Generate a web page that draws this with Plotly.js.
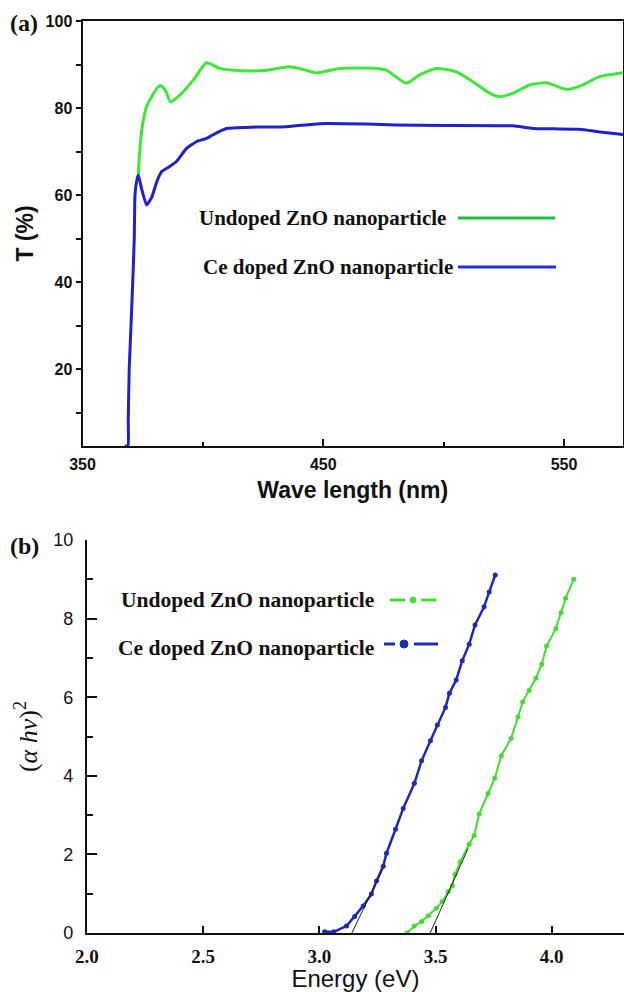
<!DOCTYPE html>
<html>
<head>
<meta charset="utf-8">
<script src="https://cdn.plot.ly/plotly-3.0.1.min.js"></script>
<style>html,body{margin:0;padding:0;background:#fff;}#chart{width:624px;height:992px;}</style>
</head>
<body>
<div id="chart"></div>
<script>
// ---- Panel (a): transmittance ----
const undopedWavelength = [373.2, 373.6, 374.6, 376.6, 378.7, 381.5, 382.5, 384.5, 386.6, 390.5, 396.0, 401.5, 407.0, 412.6, 425.0, 436.0, 440.2, 447.2, 456.8, 472.1, 476.2, 484.5, 490.0, 497.0, 505.3, 512.2, 519.1, 523.2, 528.8, 535.7, 542.6, 549.5, 552.3, 557.8, 564.7, 574.5];
const undopedT = [64.6, 68.8, 74.9, 80.3, 82.6, 84.9, 85.1, 84.0, 81.4, 83.0, 86.4, 90.4, 89.1, 88.7, 88.6, 89.5, 89.1, 88.1, 89.1, 89.1, 88.7, 85.7, 87.6, 89.1, 88.3, 86.0, 83.4, 82.6, 83.4, 85.3, 85.8, 84.5, 84.3, 85.3, 87.2, 88.1];
const ceWavelength = [367.5, 368.9, 369.0, 369.4, 370.3, 371.0, 371.5, 371.8, 372.6, 373.2, 374.5, 376.6, 378.8, 380.8, 382.9, 386.0, 389.0, 393.2, 397.4, 401.5, 405.7, 409.8, 420.0, 434.7, 448.5, 468.0, 480.0, 500.0, 528.8, 537.0, 548.0, 556.4, 565.0, 574.5];
const ceT = [2.3, 2.3, 8.0, 20.0, 32.0, 42.0, 50.0, 60.0, 63.5, 64.6, 61.5, 57.7, 59.5, 63.0, 65.4, 66.5, 67.7, 70.7, 72.3, 73.0, 74.3, 75.3, 75.6, 75.7, 76.4, 76.3, 76.1, 76.0, 75.9, 75.3, 75.2, 75.1, 74.5, 73.9];

// ---- Panel (b): Tauc plot ----
const undopedEnergy = [3.378, 3.409, 3.440, 3.469, 3.503, 3.529, 3.555, 3.572, 3.584, 3.606, 3.645, 3.666, 3.688, 3.726, 3.755, 3.783, 3.825, 3.855, 3.875, 3.903, 3.932, 3.957, 3.978, 4.018, 4.040, 4.060, 4.095];
const undopedAhv = [0, 0.18, 0.29, 0.44, 0.63, 0.80, 1.05, 1.20, 1.49, 1.81, 2.26, 2.48, 3.03, 3.55, 3.94, 4.51, 4.95, 5.50, 5.88, 6.18, 6.48, 6.84, 7.30, 7.75, 8.15, 8.52, 9.00];
const ceEnergy = [3.023, 3.063, 3.117, 3.152, 3.189, 3.224, 3.246, 3.275, 3.289, 3.328, 3.361, 3.409, 3.440, 3.478, 3.508, 3.543, 3.560, 3.589, 3.615, 3.645, 3.670, 3.709, 3.731, 3.757];
const ceAhv = [0.03, 0.03, 0.18, 0.42, 0.69, 0.99, 1.32, 1.70, 2.03, 2.64, 3.17, 3.81, 4.38, 4.89, 5.29, 5.74, 6.10, 6.44, 6.93, 7.35, 7.84, 8.30, 8.68, 9.11];
const ceTangentX = [3.14, 3.281];
const ceTangentY = [0, 1.73];
const undopedTangentX = [3.477, 3.640];
const undopedTangentY = [0, 2.15];

const legendLabels = ["Undoped ZnO nanoparticle", "Ce doped ZnO nanoparticle"];
const tickA_x = [350, 450, 550];
const tickA_y = [20, 40, 60, 80, 100];
const tickB_x = [2.0, 2.5, 3.0, 3.5, 4.0];
const tickB_xText = ["2.0", "2.5", "3.0", "3.5", "4.0"];
const tickB_y = [0, 2, 4, 6, 8, 10];

const W = 624, H = 992;
const px = v => v / W;
const py = v => 1 - v / H;

const greenA = '#3ee83a', blueA = '#2020cc';
const greenB = '#44dd33', blueB = '#1c2cb4';

const traces = [
  {x: undopedWavelength, y: undopedT, xaxis: 'x', yaxis: 'y', mode: 'lines', name: legendLabels[0],
   line: {color: greenA, width: 3, shape: 'spline', smoothing: 0.6}, showlegend: false},
  {x: ceWavelength, y: ceT, xaxis: 'x', yaxis: 'y', mode: 'lines', name: legendLabels[1],
   line: {color: blueA, width: 3, shape: 'spline', smoothing: 0.4}, showlegend: false},
  {x: undopedEnergy, y: undopedAhv, xaxis: 'x2', yaxis: 'y2', mode: 'lines+markers', name: legendLabels[0],
   line: {color: greenB, width: 2}, marker: {color: greenB, size: 5}, showlegend: false},
  {x: ceEnergy, y: ceAhv, xaxis: 'x2', yaxis: 'y2', mode: 'lines+markers', name: legendLabels[1],
   line: {color: blueB, width: 2.5}, marker: {color: blueB, size: 5}, showlegend: false},
  {x: ceTangentX, y: ceTangentY, xaxis: 'x2', yaxis: 'y2', mode: 'lines',
   line: {color: '#222', width: 1}, showlegend: false},
  {x: undopedTangentX, y: undopedTangentY, xaxis: 'x2', yaxis: 'y2', mode: 'lines',
   line: {color: '#222', width: 1}, showlegend: false}
];

const boldSans = {family: 'Liberation Sans, Arial, sans-serif', size: 16, color: '#111', weight: 'bold'};
const serifBoldA = {family: 'Liberation Serif, Times New Roman, serif', size: 21, color: '#111', weight: 'bold'};
const serifBoldB = {family: 'Liberation Serif, Times New Roman, serif', size: 21.5, color: '#111', weight: 'bold'};

const layout = {
  width: W, height: H,
  margin: {l: 0, r: 0, t: 0, b: 0},
  paper_bgcolor: '#fff', plot_bgcolor: '#fff',
  showlegend: false,
  xaxis: {
    domain: [px(82.5), px(623)], range: [350, 574.5], anchor: 'y',
    showline: true, linecolor: '#111', linewidth: 2, mirror: true,
    showgrid: false, zeroline: false,
    tickvals: tickA_x, ticks: 'inside', ticklen: 7, tickwidth: 2, tickcolor: '#111',
    minor: {tickvals: [400, 500], ticks: 'inside', ticklen: 4, tickwidth: 2, tickcolor: '#111'},
    tickfont: boldSans, ticklabelstandoff: 3,
    title: {text: 'Wave length (nm)', font: {family: 'Liberation Sans, Arial, sans-serif', size: 23, color: '#111', weight: 'bold'}, standoff: 10}
  },
  yaxis: {
    domain: [py(446), py(21)], range: [2.3, 100], anchor: 'x',
    showline: true, linecolor: '#111', linewidth: 2, mirror: true,
    showgrid: false, zeroline: false,
    tickvals: tickA_y, ticks: 'outside', ticklen: 5, tickwidth: 2, tickcolor: '#111',
    minor: {tickvals: [10, 30, 50, 70, 90], ticks: 'outside', ticklen: 5, tickwidth: 2, tickcolor: '#111'},
    tickfont: boldSans,
    title: {text: 'T (%)', font: {family: 'Liberation Sans, Arial, sans-serif', size: 23, color: '#111', weight: 'bold'}, standoff: 6}
  },
  xaxis2: {
    domain: [px(86.9), 1], range: [2.0, 4.311], anchor: 'y2',
    showline: true, linecolor: '#111', linewidth: 2, mirror: false,
    showgrid: false, zeroline: false,
    tickvals: tickB_x, ticktext: tickB_xText, ticks: 'inside', ticklen: 7, tickwidth: 2, tickcolor: '#111',
    tickfont: {family: 'Liberation Serif, Times New Roman, serif', size: 19, color: '#111', weight: 'bold'},
    ticklabelstandoff: 5,
    title: {text: 'Energy (eV)', font: {family: 'Liberation Sans, Arial, sans-serif', size: 24, color: '#111'}, standoff: 6}
  },
  yaxis2: {
    domain: [py(933), py(540)], range: [0, 10], anchor: 'x2',
    showline: true, linecolor: '#111', linewidth: 2, mirror: false,
    showgrid: false, zeroline: false,
    tickvals: tickB_y, ticks: 'inside', ticklen: 10, tickwidth: 2, tickcolor: '#111',
    minor: {dtick: 1, ticks: 'inside', ticklen: 6, tickwidth: 2, tickcolor: '#111'},
    tickfont: {family: 'Liberation Sans, Arial, sans-serif', size: 18, color: '#111'},
    ticklabelstandoff: 8,
    title: {text: '(<i>α hν</i>)<sup>2</sup>', font: {family: 'Liberation Serif, Times New Roman, serif', size: 26, color: '#111'}, standoff: 8}
  },
  annotations: [
    {xref: 'paper', yref: 'paper', x: px(8), y: py(23), xanchor: 'left', yanchor: 'middle', showarrow: false,
     text: '(a)', font: {family: 'Liberation Serif, Times New Roman, serif', size: 24, color: '#111', weight: 'bold'}},
    {xref: 'paper', yref: 'paper', x: px(8), y: py(546), xanchor: 'left', yanchor: 'middle', showarrow: false,
     text: '(b)', font: {family: 'Liberation Serif, Times New Roman, serif', size: 24, color: '#111', weight: 'bold'}},
    {xref: 'paper', yref: 'paper', x: px(448), y: py(218), xanchor: 'right', yanchor: 'middle', showarrow: false,
     text: legendLabels[0], font: serifBoldA},
    {xref: 'paper', yref: 'paper', x: px(455), y: py(267), xanchor: 'right', yanchor: 'middle', showarrow: false,
     text: legendLabels[1], font: serifBoldA},
    {xref: 'paper', yref: 'paper', x: px(376), y: py(600), xanchor: 'right', yanchor: 'middle', showarrow: false,
     text: legendLabels[0], font: serifBoldB},
    {xref: 'paper', yref: 'paper', x: px(376), y: py(648), xanchor: 'right', yanchor: 'middle', showarrow: false,
     text: legendLabels[1], font: serifBoldB}
  ],
  shapes: [
    // legend (a)
    {type: 'line', xref: 'paper', yref: 'paper', x0: px(458), x1: px(555), y0: py(218), y1: py(218), line: {color: '#1fbf3f', width: 3}},
    {type: 'line', xref: 'paper', yref: 'paper', x0: px(458), x1: px(556), y0: py(267), y1: py(267), line: {color: '#2233dd', width: 3}},
    // legend (b) green: dash, dot, dash
    {type: 'line', xref: 'paper', yref: 'paper', x0: px(390), x1: px(405), y0: py(600), y1: py(600), line: {color: greenB, width: 3}},
    {type: 'circle', xref: 'paper', yref: 'paper', x0: px(410), x1: px(416), y0: py(597), y1: py(603), fillcolor: greenB, line: {color: greenB, width: 1}},
    {type: 'line', xref: 'paper', yref: 'paper', x0: px(421), x1: px(436), y0: py(600), y1: py(600), line: {color: greenB, width: 3}},
    // legend (b) blue: dash, dot, long dash
    {type: 'line', xref: 'paper', yref: 'paper', x0: px(384), x1: px(395), y0: py(644), y1: py(644), line: {color: blueB, width: 3}},
    {type: 'circle', xref: 'paper', yref: 'paper', x0: px(400), x1: px(408), y0: py(640), y1: py(648), fillcolor: blueB, line: {color: blueB, width: 1}},
    {type: 'line', xref: 'paper', yref: 'paper', x0: px(414), x1: px(438), y0: py(644), y1: py(644), line: {color: blueB, width: 3}}
  ]
};

Plotly.newPlot('chart', traces, layout, {staticPlot: true, displayModeBar: false});
</script>
</body>
</html>
